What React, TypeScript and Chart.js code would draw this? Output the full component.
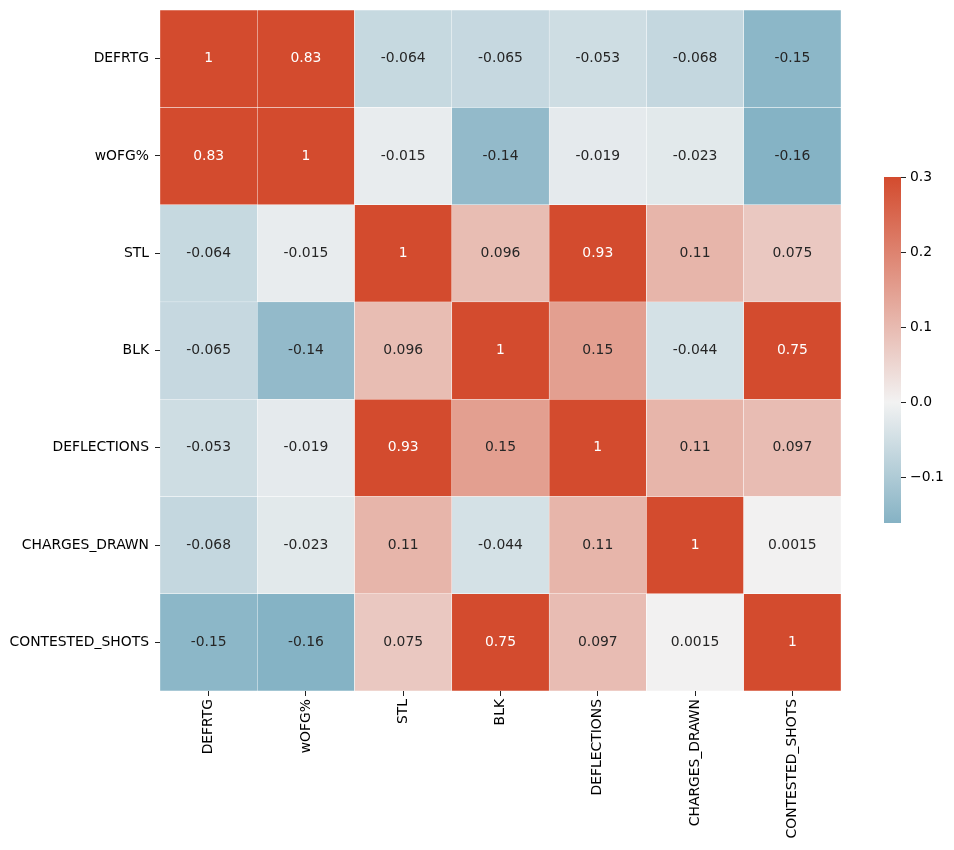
import React, { useEffect, useRef } from "react";
import { Chart, registerables } from "chart.js";

Chart.register(...registerables);

const LABELS = ["DEFRTG", "wOFG%", "STL", "BLK", "DEFLECTIONS", "CHARGES_DRAWN", "CONTESTED_SHOTS"];

const ROW_DEFRTG = [1, 0.83, -0.064, -0.065, -0.053, -0.068, -0.15];
const ROW_WOFG = [0.83, 1, -0.015, -0.14, -0.019, -0.023, -0.16];
const ROW_STL = [-0.064, -0.015, 1, 0.096, 0.93, 0.11, 0.075];
const ROW_BLK = [-0.065, -0.14, 0.096, 1, 0.15, -0.044, 0.75];
const ROW_DEFLECTIONS = [-0.053, -0.019, 0.93, 0.15, 1, 0.11, 0.097];
const ROW_CHARGES = [-0.068, -0.023, 0.11, -0.044, 0.11, 1, 0.0015];
const ROW_CONTESTED = [-0.15, -0.16, 0.075, 0.75, 0.097, 0.0015, 1];

const MATRIX = [ROW_DEFRTG, ROW_WOFG, ROW_STL, ROW_BLK, ROW_DEFLECTIONS, ROW_CHARGES, ROW_CONTESTED];

const COLORBAR_TICKS = [-0.1, 0, 0.1, 0.2, 0.3];
const VMAX = 0.3;
const VMIN = -0.161;

const NEG = [38, 123, 157];
const LIGHT = [242, 242, 242];
const POS = [211, 75, 46];

function colorFor(v: number): number[] {
  const c = Math.max(VMIN, Math.min(VMAX, v));
  const f = Math.abs(c) / VMAX;
  const end = c >= 0 ? POS : NEG;
  return LIGHT.map((l, i) => Math.round(l + f * (end[i] - l)));
}
function rgb(c: number[]) {
  return `rgb(${c[0]},${c[1]},${c[2]})`;
}
function lum(c: number[]) {
  const lin = c.map((x) => {
    const s = x / 255;
    return s <= 0.03928 ? s / 12.92 : Math.pow((s + 0.055) / 1.055, 2.4);
  });
  return 0.2126 * lin[0] + 0.7152 * lin[1] + 0.0722 * lin[2];
}
function fmt2g(v: number) {
  return Number(v.toPrecision(2)).toString();
}

const FONT = "'DejaVu Sans', sans-serif";
const FS = 13.9;

const annotPlugin = {
  id: "annot",
  afterDatasetsDraw(chart: any) {
    const ctx = chart.ctx;
    ctx.save();
    ctx.font = `${FS}px ${FONT}`;
    ctx.textAlign = "center";
    ctx.textBaseline = "middle";
    chart.data.datasets.forEach((ds: any, i: number) => {
      const meta = chart.getDatasetMeta(i);
      meta.data.forEach((el: any, j: number) => {
        const v = MATRIX[i][j];
        const c = colorFor(v);
        ctx.fillStyle = lum(c) > 0.38 ? "rgb(38,38,38)" : "#ffffff";
        ctx.fillText(fmt2g(v), el.x, (el.y + el.base) / 2);
      });
    });
    ctx.restore();
  },
};

export default function App() {
  const mainRef = useRef<HTMLCanvasElement>(null);
  const cbRef = useRef<HTMLCanvasElement>(null);

  useEffect(() => {
    const datasets = MATRIX.map((row, i) => ({
      label: LABELS[i],
      data: row.map(() => [i, i + 1]),
      backgroundColor: row.map((v) => rgb(colorFor(v))),
      borderColor: "#ffffff",
      borderWidth: 0.5,
      borderSkipped: false,
      barPercentage: 1,
      categoryPercentage: 1,
      grouped: false,
    }));

    const main = new Chart(mainRef.current!, {
      type: "bar",
      data: { labels: LABELS, datasets: datasets as any },
      options: {
        animation: false,
        responsive: false,
        layout: { padding: { left: 0, top: 10, right: 113, bottom: 0 } },
        plugins: { legend: { display: false }, tooltip: { enabled: false } },
        scales: {
          x: {
            type: "category",
            grid: { display: true, drawOnChartArea: false, drawTicks: true, tickLength: 5, color: "#222", offset: false, lineWidth: 1 },
            border: { display: false },
            ticks: { color: "#000", font: { family: FONT, size: FS }, minRotation: 90, maxRotation: 90, padding: 3, autoSkip: false },
            afterFit(scale: any) {
              scale.height = 159;
            },
          },
          y: {
            type: "linear",
            min: 0,
            max: 7,
            reverse: true,
            grid: { display: true, drawOnChartArea: false, drawTicks: true, tickLength: 5, color: "#222", lineWidth: 1 },
            border: { display: false },
            afterBuildTicks(scale: any) {
              scale.ticks = LABELS.map((_, i) => ({ value: i + 0.5 }));
            },
            ticks: {
              color: "#000",
              font: { family: FONT, size: FS, lineHeight: 0.5 },
              padding: 6,
              autoSkip: false,
              callback: (v: any) => LABELS[Math.floor(Number(v))],
            },
            afterFit(scale: any) {
              scale.width = 160;
            },
          },
        },
      },
      plugins: [annotPlugin],
    });

    const cb = new Chart(cbRef.current!, {
      type: "bar",
      data: {
        labels: ["cb"],
        datasets: [
          {
            data: [[VMIN, VMAX]] as any,
            barPercentage: 1,
            categoryPercentage: 1,
            borderWidth: 0,
            backgroundColor: (ctx: any) => {
              const chart = ctx.chart;
              const ys = chart.scales.y;
              if (!ys || !chart.chartArea) return rgb(LIGHT);
              const yTop = ys.getPixelForValue(VMAX);
              const yBot = ys.getPixelForValue(VMIN);
              const g = chart.ctx.createLinearGradient(0, yBot, 0, yTop);
              const y0 = ys.getPixelForValue(0);
              const p0 = (yBot - y0) / (yBot - yTop);
              g.addColorStop(0, rgb(colorFor(VMIN)));
              g.addColorStop(p0, rgb(LIGHT));
              g.addColorStop(1, rgb(colorFor(VMAX)));
              return g;
            },
          },
        ],
      },
      options: {
        animation: false,
        responsive: false,
        layout: { padding: { left: 0, top: 10, right: 0, bottom: 10 } },
        plugins: { legend: { display: false }, tooltip: { enabled: false } },
        scales: {
          x: { display: false },
          y: {
            type: "linear",
            position: "right",
            min: VMIN,
            max: VMAX,
            grid: { display: true, drawOnChartArea: false, drawTicks: true, tickLength: 5, color: "#222", lineWidth: 1 },
            border: { display: false },
            afterBuildTicks(scale: any) {
              scale.ticks = COLORBAR_TICKS.map((v) => ({ value: v }));
            },
            ticks: {
              color: "#000",
              font: { family: FONT, size: FS, lineHeight: 0.5 },
              padding: 4,
              callback: (v: any) => {
                const n = Number(v);
                const s = Math.abs(n).toFixed(1);
                return n < -1e-9 ? "\u2212" + s : s;
              },
            },
            afterFit(scale: any) {
              scale.width = 53;
            },
          },
        },
      },
    });

    return () => {
      main.destroy();
      cb.destroy();
    };
  }, []);

  return (
    <div style={{ position: "absolute", left: 0, top: 0, width: 954, height: 850, background: "#fff" }}>
      <canvas ref={mainRef} width={954} height={850} style={{ position: "absolute", left: 0, top: 0, width: 954, height: 850 }} />
      <canvas ref={cbRef} width={70} height={366} style={{ position: "absolute", left: 884, top: 167, width: 70, height: 366 }} />
    </div>
  );
}
